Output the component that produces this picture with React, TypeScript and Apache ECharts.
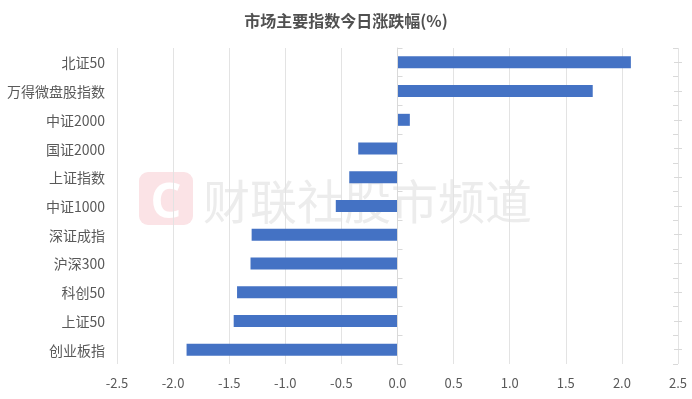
import React, { useEffect, useRef } from "react";
import * as echarts from "echarts";

const categories = [
  "北证50",
  "万得微盘股指数",
  "中证2000",
  "国证2000",
  "上证指数",
  "中证1000",
  "深证成指",
  "沪深300",
  "科创50",
  "上证50",
  "创业板指",
];
const changes = [2.08, 1.74, 0.11, -0.35, -0.43, -0.55, -1.3, -1.31, -1.43, -1.46, -1.88];
const titleText = "市场主要指数今日涨跌幅(%)";
const watermarkText = "财联社股市频道";

const FONT = '"Microsoft YaHei", "Noto Sans CJK SC", sans-serif';
const AXIS_GRAY = "#d9d9d9";
const TEXT_GRAY = "#595959";

export default function App() {
  const ref = useRef<HTMLDivElement>(null);
  useEffect(() => {
    if (!ref.current) return;
    const chart = echarts.init(ref.current, null, { renderer: "svg" });
    const tickAxis = (inside: boolean, align: boolean, len: number, line: boolean) => ({
      type: "category",
      data: categories,
      inverse: true,
      position: "right",
      z: 3,
      axisLine: { show: line, onZero: true, lineStyle: { color: AXIS_GRAY } },
      axisTick: { show: true, inside, alignWithLabel: align, length: len, lineStyle: { color: AXIS_GRAY } },
      axisLabel: { show: false },
      splitLine: { show: false },
    });
    chart.setOption({
      animation: false,
      textStyle: { fontFamily: FONT },
      title: {
        text: titleText,
        left: "center",
        top: 7,
        textStyle: { fontFamily: FONT, fontSize: 16, fontWeight: "bold", color: "#505050" },
      },
      grid: { left: 117, right: 14, top: 48, bottom: 35, containLabel: false },
      graphic: [
        {
          type: "group",
          z: -10,
          silent: true,
          children: [
            {
              type: "rect",
              shape: { x: 139, y: 172, width: 54, height: 53, r: 9 },
              style: { fill: "#fbe3e6" },
              z: -10,
            },
            {
              type: "text",
              x: 166,
              y: 199,
              z: -9,
              style: {
                text: "C",
                fill: "#ffffff",
                font: 'bold 48px "Noto Sans", sans-serif',
                align: "center",
                verticalAlign: "middle",
              },
            },
            {
              type: "text",
              x: 203,
              y: 198,
              z: -10,
              style: {
                text: watermarkText,
                fill: "#ececec",
                font: '47px "Noto Sans CJK SC", sans-serif',
                align: "left",
                verticalAlign: "middle",
              },
            },
          ],
        },
      ],
      xAxis: {
        type: "value",
        min: -2.5,
        max: 2.5,
        interval: 0.5,
        axisLine: { show: false },
        axisTick: { show: false },
        splitLine: { show: true, lineStyle: { color: "#e3e3e3" } },
        axisLabel: {
          fontSize: 13,
          color: TEXT_GRAY,
          margin: 12,
          fontFamily: FONT,
          formatter: (v: number) => v.toFixed(1),
        },
      },
      yAxis: [
        {
          type: "category",
          data: categories,
          inverse: true,
          position: "left",
          axisLine: { show: false, onZero: false },
          axisTick: { show: false },
          axisLabel: { fontSize: 14, color: TEXT_GRAY, margin: 12, fontFamily: FONT },
          splitLine: { show: false },
        },
        tickAxis(false, false, 5, true),
        tickAxis(true, false, 5, false),
        tickAxis(false, true, 4, false),
        tickAxis(true, true, 4, false),
      ],
      series: [
        {
          type: "bar",
          data: changes,
          xAxisIndex: 0,
          yAxisIndex: 0,
          barWidth: 12,
          itemStyle: { color: "#4472c4" },
          z: 2,
        },
      ],
    });
    return () => chart.dispose();
  }, []);
  return (
    <div
      ref={ref}
      style={{ position: "fixed", left: 0, top: 0, width: 692, height: 399 }}
    />
  );
}
